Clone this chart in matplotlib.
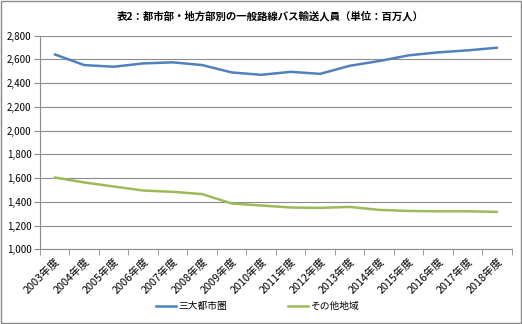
import matplotlib
matplotlib.use('Agg')
import matplotlib.pyplot as plt
from matplotlib.ticker import FuncFormatter, FixedLocator
from matplotlib.lines import Line2D
from matplotlib.patches import Rectangle

plt.rcParams['font.family'] = ['Noto Sans CJK JP', 'DejaVu Sans']

years = [f'{y}年度' for y in range(2003, 2019)]
metro = [2642, 2552, 2538, 2566, 2575, 2552, 2490, 2470,
         2495, 2478, 2546, 2586, 2634, 2659, 2676, 2698]
other = [1605, 1563, 1529, 1495, 1484, 1465, 1386, 1369,
         1352, 1349, 1357, 1332, 1323, 1320, 1320, 1315]
series_names = ['三大都市圏', 'その他地域']
title = '表2：都市部・地方部別の一般路線バス輸送人員（単位：百万人）'

BLUE = '#4F81BD'
GREEN = '#9BBB59'
GRID = '#8c8c8c'


def plot():
    fig = plt.figure(figsize=(5.22, 3.24), dpi=100)
    fig.patches.append(Rectangle((0.002, 0.003), 0.996, 0.994, transform=fig.transFigure,
                                 fill=False, edgecolor='#888888', linewidth=1.0))
    ax = fig.add_axes([0.0766, 0.2306, 0.904, 0.6594])

    x = list(range(len(years)))
    ax.plot(x, metro, color=BLUE, linewidth=1.8, solid_capstyle='round')
    ax.plot(x, other, color=GREEN, linewidth=1.8, solid_capstyle='round')

    ax.set_xlim(-0.5, len(years) - 0.5)
    ax.set_ylim(1000, 2800)
    ax.set_yticks(range(1000, 2801, 200))
    ax.yaxis.set_major_formatter(FuncFormatter(lambda v, p: f'{int(v):,}'))
    ax.grid(axis='y', color=GRID, linewidth=0.8)
    ax.set_axisbelow(True)

    # category labels centred, tick marks between categories
    ax.set_xticks(x)
    ax.set_xticklabels(years, rotation=45, ha='right', rotation_mode='anchor',
                       fontsize=7.8)
    ax.tick_params(axis='x', length=0, pad=5)
    ax.xaxis.set_minor_locator(FixedLocator([i - 0.5 for i in range(len(years) + 1)]))
    ax.tick_params(axis='x', which='minor', length=4, color=GRID, direction='out')
    ax.tick_params(axis='y', labelsize=7, length=4, color=GRID, pad=2)

    for s in ['top', 'right']:
        ax.spines[s].set_visible(False)
    for s in ['left', 'bottom']:
        ax.spines[s].set_color(GRID)
        ax.spines[s].set_linewidth(0.8)

    fig.text(0.517, 0.95, title, ha='center', va='center', fontsize=7.5,
             fontweight='bold')

    handles = [Line2D([], [], color=BLUE, linewidth=1.8),
               Line2D([], [], color=GREEN, linewidth=1.8)]
    fig.legend(handles, series_names, loc='center', bbox_to_anchor=(0.493, 0.055),
               ncol=2, frameon=False, fontsize=7, handlelength=2.1,
               handletextpad=0.2, columnspacing=6.3)

    fig.savefig('out.png', dpi=100)


if __name__ == '__main__':
    plot()
